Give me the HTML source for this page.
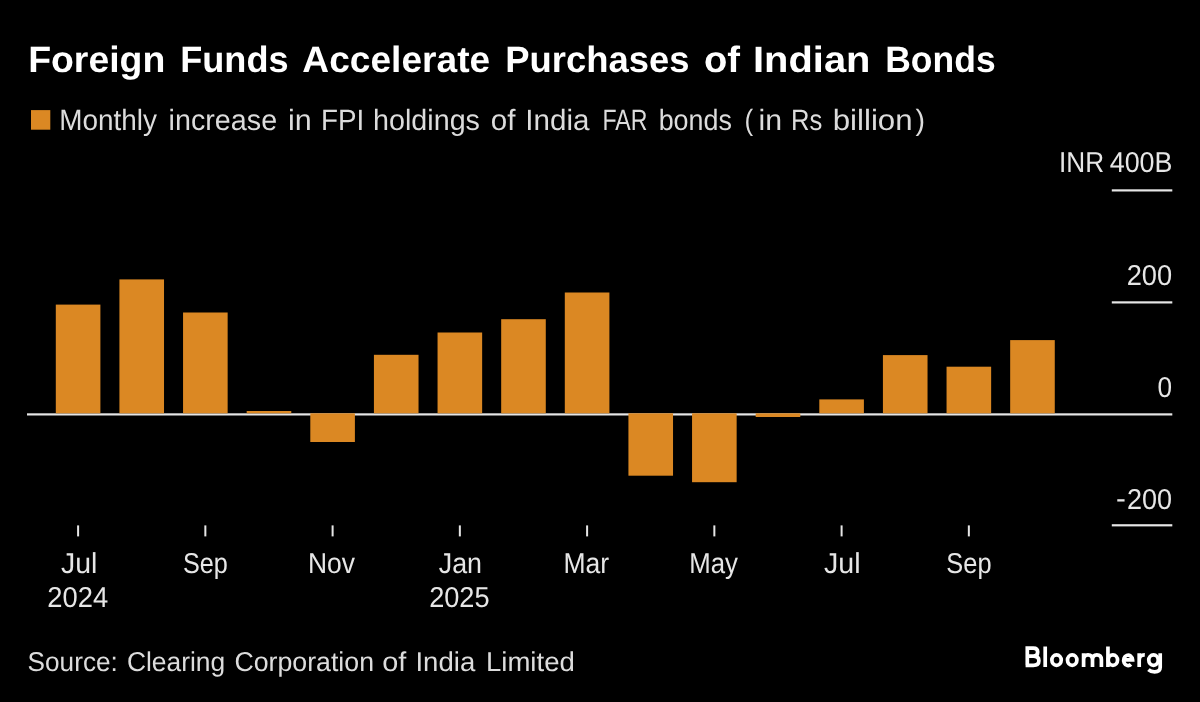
<!DOCTYPE html>
<html><head><meta charset="utf-8"><title>Foreign Funds Accelerate Purchases of Indian Bonds</title>
<style>
html,body{margin:0;padding:0;background:#000;}
body{width:1200px;height:702px;overflow:hidden;}
svg{display:block;will-change:transform;text-rendering:geometricPrecision;font-family:"Liberation Sans",sans-serif;font-size:40px;}
</style></head><body>
<svg width="1200" height="702" viewBox="0 0 1200 702">
<rect width="1200" height="702" fill="#000"/>
<rect x="27" y="413.3" width="1145.3" height="2.20" fill="#e6e6e6"/>
<rect x="55.80" y="304.6" width="44.6" height="108.70" fill="#db8823"/>
<rect x="119.42" y="279.4" width="44.6" height="133.90" fill="#db8823"/>
<rect x="183.05" y="312.5" width="44.6" height="100.80" fill="#db8823"/>
<rect x="246.68" y="411.0" width="44.6" height="2.30" fill="#db8823"/>
<rect x="310.30" y="413.3" width="44.6" height="28.70" fill="#db8823"/>
<rect x="373.93" y="354.8" width="44.6" height="58.50" fill="#db8823"/>
<rect x="437.55" y="332.5" width="44.6" height="80.80" fill="#db8823"/>
<rect x="501.18" y="319.2" width="44.6" height="94.10" fill="#db8823"/>
<rect x="564.80" y="292.5" width="44.6" height="120.80" fill="#db8823"/>
<rect x="628.43" y="413.3" width="44.6" height="62.40" fill="#db8823"/>
<rect x="692.05" y="413.3" width="44.6" height="68.90" fill="#db8823"/>
<rect x="755.68" y="413.3" width="44.6" height="3.70" fill="#db8823"/>
<rect x="819.30" y="399.4" width="44.6" height="13.90" fill="#db8823"/>
<rect x="882.93" y="355.1" width="44.6" height="58.20" fill="#db8823"/>
<rect x="946.55" y="366.7" width="44.6" height="46.60" fill="#db8823"/>
<rect x="1010.17" y="340.1" width="44.6" height="73.20" fill="#db8823"/>
<rect x="1111.8" y="189.30" width="60.5" height="2.2" fill="#e6e6e6"/>
<rect x="1111.8" y="301.30" width="60.5" height="2.2" fill="#e6e6e6"/>
<rect x="1111.8" y="524.20" width="60.5" height="2.2" fill="#e6e6e6"/>
<rect x="77.10" y="525.4" width="2" height="11" fill="#e6e6e6"/>
<rect x="204.35" y="525.4" width="2" height="11" fill="#e6e6e6"/>
<rect x="331.60" y="525.4" width="2" height="11" fill="#e6e6e6"/>
<rect x="458.85" y="525.4" width="2" height="11" fill="#e6e6e6"/>
<rect x="586.10" y="525.4" width="2" height="11" fill="#e6e6e6"/>
<rect x="713.35" y="525.4" width="2" height="11" fill="#e6e6e6"/>
<rect x="840.60" y="525.4" width="2" height="11" fill="#e6e6e6"/>
<rect x="967.85" y="525.4" width="2" height="11" fill="#e6e6e6"/>
<rect x="31" y="110.1" width="19.3" height="19.6" fill="#db8823"/>
<text transform="translate(28.13 72.00) scale(0.9351 0.9143)" font-weight="bold" fill="#ffffff">Foreign</text>
<text transform="translate(180.19 72.00) scale(0.9038 0.9143)" font-weight="bold" fill="#ffffff">Funds</text>
<text transform="translate(302.32 72.00) scale(0.9282 0.9143)" font-weight="bold" fill="#ffffff">Accelerate</text>
<text transform="translate(505.18 72.00) scale(0.9104 0.9143)" font-weight="bold" fill="#ffffff">Purchases</text>
<text transform="translate(704.04 72.00) scale(0.9550 0.9143)" font-weight="bold" fill="#ffffff">of</text>
<text transform="translate(753.01 72.00) scale(0.9970 0.9143)" font-weight="bold" fill="#ffffff">Indian</text>
<text transform="translate(885.23 72.00) scale(0.8871 0.9143)" font-weight="bold" fill="#ffffff">Bonds</text>
<text transform="translate(59.15 130.00) scale(0.6986 0.7321)" font-weight="normal" fill="#dcdcdc">Monthly</text>
<text transform="translate(168.56 130.00) scale(0.7182 0.7321)" font-weight="normal" fill="#dcdcdc">increase</text>
<text transform="translate(287.98 130.00) scale(0.7625 0.7321)" font-weight="normal" fill="#dcdcdc">in</text>
<text transform="translate(320.91 130.00) scale(0.6950 0.7321)" font-weight="normal" fill="#dcdcdc">FPI</text>
<text transform="translate(373.07 130.00) scale(0.7174 0.7321)" font-weight="normal" fill="#dcdcdc">holdings</text>
<text transform="translate(490.76 130.00) scale(0.7369 0.7321)" font-weight="normal" fill="#dcdcdc">of</text>
<text transform="translate(525.28 130.00) scale(0.7397 0.7321)" font-weight="normal" fill="#dcdcdc">India</text>
<text transform="translate(602.51 130.00) scale(0.5784 0.7321)" font-weight="normal" fill="#dcdcdc">FAR</text>
<text transform="translate(658.66 130.00) scale(0.6723 0.7321)" font-weight="normal" fill="#dcdcdc">bonds</text>
<text transform="translate(744.50 130.00) scale(0.6500 0.7321)" font-weight="normal" fill="#dcdcdc">(</text>
<text transform="translate(758.48 130.00) scale(0.7587 0.7321)" font-weight="normal" fill="#dcdcdc">in</text>
<text transform="translate(791.08 130.00) scale(0.6405 0.7321)" font-weight="normal" fill="#dcdcdc">Rs</text>
<text transform="translate(832.69 130.00) scale(0.7808 0.7321)" font-weight="normal" fill="#dcdcdc">billion</text>
<text transform="translate(915.40 130.00) scale(0.7136 0.7321)" font-weight="normal" fill="#dcdcdc">)</text>
<text transform="translate(1059.03 172.00) scale(0.6554 0.7196)" font-weight="normal" fill="#e6e6e6">INR</text>
<text transform="translate(1109.70 172.00) scale(0.6715 0.7196)" font-weight="normal" fill="#e6e6e6">400B</text>
<text transform="translate(1126.64 285.00) scale(0.6820 0.7196)" font-weight="normal" fill="#e6e6e6">200</text>
<text transform="translate(1157.55 397.00) scale(0.6550 0.7196)" font-weight="normal" fill="#e6e6e6">0</text>
<text transform="translate(1115.96 508.00) scale(0.7364 0.7196)" font-weight="normal" fill="#e6e6e6">-</text>
<text transform="translate(1127.05 509.00) scale(0.6757 0.7196)" font-weight="normal" fill="#e6e6e6">200</text>
<text transform="translate(61.00 573.00) scale(0.7107 0.7196)" font-weight="normal" fill="#e6e6e6">Jul</text>
<text transform="translate(182.97 573.00) scale(0.6297 0.7196)" font-weight="normal" fill="#e6e6e6">Sep</text>
<text transform="translate(308.02 573.00) scale(0.6605 0.7196)" font-weight="normal" fill="#e6e6e6">Nov</text>
<text transform="translate(438.75 573.00) scale(0.6707 0.7196)" font-weight="normal" fill="#e6e6e6">Jan</text>
<text transform="translate(563.51 573.00) scale(0.6634 0.7196)" font-weight="normal" fill="#e6e6e6">Mar</text>
<text transform="translate(689.32 573.00) scale(0.6442 0.7196)" font-weight="normal" fill="#e6e6e6">May</text>
<text transform="translate(824.00 573.00) scale(0.7158 0.7196)" font-weight="normal" fill="#e6e6e6">Jul</text>
<text transform="translate(946.37 573.00) scale(0.6347 0.7196)" font-weight="normal" fill="#e6e6e6">Sep</text>
<text transform="translate(47.33 607.00) scale(0.6837 0.7196)" font-weight="normal" fill="#e6e6e6">2024</text>
<text transform="translate(429.14 607.00) scale(0.6794 0.7196)" font-weight="normal" fill="#e6e6e6">2025</text>
<text transform="translate(27.60 671.00) scale(0.6543 0.6786)" font-weight="normal" fill="#dcdcdc">Source:</text>
<text transform="translate(126.93 671.00) scale(0.6599 0.6786)" font-weight="normal" fill="#dcdcdc">Clearing</text>
<text transform="translate(234.41 671.00) scale(0.6679 0.6786)" font-weight="normal" fill="#dcdcdc">Corporation</text>
<text transform="translate(382.28 671.00) scale(0.7219 0.6786)" font-weight="normal" fill="#dcdcdc">of</text>
<text transform="translate(415.43 671.00) scale(0.6894 0.6786)" font-weight="normal" fill="#dcdcdc">India</text>
<text transform="translate(485.93 671.00) scale(0.6892 0.6786)" font-weight="normal" fill="#dcdcdc">Limited</text>
<g fill="none" stroke="#fff" stroke-width="3.7" stroke-linejoin="miter" stroke-linecap="butt">
<path d="M1027.3 665.3 V648.2 H1033.3 C1036.4 648.2 1037.7 650 1037.7 652.1 C1037.7 654.3 1036.3 656.2 1033.3 656.2 H1027.3 M1033.3 656.2 C1037 656.2 1038.9 658 1038.9 660.7 C1038.9 663.5 1037 665.3 1033.3 665.3 H1025.6"/>
<path d="M1045.2 646.5 V667"/>
<ellipse cx="1056.55" cy="660.1" rx="4.7" ry="5.25"/>
<ellipse cx="1072.2" cy="660.1" rx="4.7" ry="5.25"/>
<path d="M1083.6 667 V653.3 M1083.6 659.8 C1083.6 656.2 1085.4 654.85 1088 654.85 C1090.7 654.85 1092.5 656.2 1092.5 659.8 V667 M1092.5 659.8 C1092.5 656.2 1094.3 654.85 1096.9 654.85 C1099.6 654.85 1101.4 656.2 1101.4 659.8 V667"/>
<path d="M1107.95 646.5 V667"/>
<ellipse cx="1112.9" cy="660.1" rx="4.65" ry="5.25"/>
<path d="M1123.7 659.8 H1132.55 A4.45 5.25 0 1 0 1131.0 664.4"/>
<path d="M1139.2 667 V653.3 M1139.2 660.4 C1139.2 656.6 1141 654.8 1144.8 654.9"/>
<ellipse cx="1153.5" cy="660.1" rx="4.75" ry="5.25"/>
<path d="M1160.2 653.3 V667.3 C1160.2 670.9 1157.6 671.9 1154.6 671.9 C1152 671.9 1150 671.2 1148.4 669.7"/>
</g>
</svg>
</body></html>
